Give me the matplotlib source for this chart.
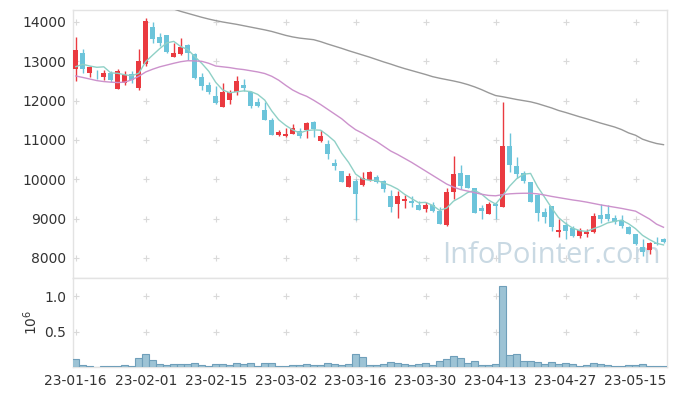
import numpy as np
import pandas as pd
import matplotlib
matplotlib.use('Agg')
import matplotlib.pyplot as plt

# trading days (KRX holidays removed)
holidays = ['2023-01-23', '2023-01-24', '2023-03-01', '2023-05-01', '2023-05-05']
dates = [d for d in pd.bdate_range('2023-01-16', '2023-05-19')
         if d.strftime('%Y-%m-%d') not in holidays]

opens = [12800, 13220, 12700, 12660, 12590, 12710, 12305, 12460, 12670, 12320,
         12925, 13880, 13610, 13670, 13120, 13186, 13420, 13186, 12610, 12400,
         12120, 11850, 12010, 12212, 12400, 12230, 11975, 11763, 11510, 11127,
         11105, 11160, 11230, 11247, 11466, 10975, 10906, 10416, 10212, 9814,
         9958, 9856, 9990, 10060, 9958, 9577, 9381, 9460, 9450, 9348,
         9246, 9348, 9196, 8840, 9686, 10153, 10110, 9773, 9264, 9127,
         9381, 9305, 10848, 10340, 10169, 9925, 9602, 9178, 9322, 8654,
         8840, 8770, 8568, 8602, 8654, 9094, 9127, 9010, 8960, 8797,
         8603, 8280, 8195, 8390, 8492]
highs = [13610, 13306, 12880, 12780, 12780, 12760, 12800, 12760, 12746, 13320,
         14090, 14000, 13713, 13680, 13460, 13590, 13430, 13200, 12696, 12483,
         12373, 12440, 12271, 12630, 12551, 12240, 12060, 11960, 11550, 11255,
         11298, 11415, 11298, 11466, 11480, 11255, 11000, 10517, 10220, 10169,
         10000, 10195, 10200, 10110, 9983, 9729, 9704, 9602, 9568, 9449,
         9432, 9416, 9297, 9773, 10590, 10356, 10120, 9780, 9348, 9432,
         9432, 11960, 11170, 10568, 10212, 9935, 9620, 9280, 9330, 8992,
         8924, 8822, 8771, 8729, 9137, 9365, 9348, 9094, 9094, 8810,
         8620, 8492, 8416, 8542, 8500]
lows = [12510, 12711, 12610, 12550, 12530, 12475, 12290, 12410, 12440, 12270,
        12880, 13460, 13390, 13200, 13100, 13170, 13030, 12550, 12271, 12162,
        11908, 11840, 11908, 12145, 12254, 11822, 11847, 11500, 11120, 11110,
        11085, 11145, 11059, 11043, 11085, 10960, 10517, 10230, 9925, 9800,
        8960, 9840, 9960, 9900, 9670, 9178, 9010, 9264, 9305, 9213,
        9162, 9180, 8860, 8822, 9500, 9755, 9780, 9140, 8992, 9110,
        8992, 9290, 10195, 10027, 9915, 9420, 8941, 8883, 8687, 8542,
        8492, 8542, 8517, 8542, 8640, 8883, 8941, 8873, 8771, 8600,
        8340, 8059, 8093, 8331, 8380]
closes = [13300, 12800, 12850, 12640, 12710, 12530, 12746, 12660, 12520, 13020,
          14025, 13580, 13475, 13237, 13220, 13364, 13200, 12584, 12373, 12220,
          11950, 12230, 12230, 12500, 12330, 11865, 11870, 11510, 11127, 11196,
          11150, 11300, 11110, 11440, 11280, 11110, 10652, 10350, 9940, 10085,
          9635, 10027, 10180, 9940, 9755, 9305, 9577, 9510, 9400, 9230,
          9348, 9196, 8873, 9686, 10127, 9839, 9790, 9153, 9204, 9374,
          9330, 10847, 10365, 10144, 9958, 9432, 9153, 9043, 8781, 8720,
          8687, 8570, 8720, 8670, 9076, 8992, 8992, 8924, 8822, 8620,
          8364, 8146, 8382, 8356, 8407]
# closes of the 4 sessions before the window (for the 5-day average)
pre_closes = [12500, 13065, 12805, 12650]

ma20 = [12627, 12590, 12550, 12510, 12485, 12470, 12460, 12470, 12530, 12620,
        12730, 12800, 12860, 12905, 12950, 12990, 13015, 13010, 13000, 12950,
        12880, 12860, 12840, 12810, 12790, 12760, 12730, 12690, 12620, 12520,
        12390, 12270, 12180, 12110, 12010, 11900, 11780, 11660, 11540, 11390,
        11260, 11170, 11060, 10960, 10840, 10720, 10630, 10530, 10430, 10320,
        10210, 10100, 9990, 9880, 9800, 9740, 9700, 9660, 9620, 9590,
        9580, 9610, 9630, 9640, 9645, 9645, 9630, 9600, 9565, 9535,
        9505, 9475, 9450, 9420, 9385, 9350, 9320, 9290, 9260, 9225,
        9190, 9090, 8990, 8860, 8780]
ma60 = [np.nan] * 14 + [
        14330, 14270, 14220, 14170, 14120, 14075,
        14035, 14000, 13970, 13940, 13905, 13870, 13835, 13800, 13760, 13710,
        13660, 13620, 13590, 13570, 13550, 13500, 13440, 13385, 13330, 13270,
        13215, 13160, 13105, 13045, 12985, 12930, 12870, 12815, 12765, 12715,
        12665, 12610, 12570, 12535, 12500, 12460, 12410, 12350, 12280, 12200,
        12130, 12100, 12065, 12030, 12000, 11970, 11925, 11870, 11815, 11750,
        11700, 11645, 11590, 11540, 11485, 11430, 11380, 11330, 11265, 11180,
        11120, 11020, 10960, 10910, 10880]

volumes = [112000, 28000, 10000, 2000, 14000, 14000, 14000, 28000, 14000, 126000,
           182000, 103000, 42000, 28000, 42000, 42000, 42000, 56000, 33000, 14000,
           42000, 42000, 28000, 56000, 42000, 56000, 14000, 56000, 56000, 14000,
           14000, 28000, 28000, 42000, 28000, 28000, 56000, 40000, 28000, 42000,
           182000, 140000, 28000, 28000, 42000, 70000, 56000, 42000, 28000, 42000,
           56000, 28000, 84000, 112000, 154000, 126000, 56000, 84000, 28000, 28000,
           42000, 1140000, 168000, 182000, 84000, 84000, 70000, 42000, 70000, 42000,
           56000, 42000, 14000, 28000, 56000, 42000, 28000, 14000, 14000, 28000,
           28000, 42000, 14000, 14000, 14000]

UP = '#ea3a40'
DOWN = '#6cc4da'
GRID = '#d9d9d9'
SPINE = '#e3e3e3'

x = np.arange(len(dates))
o = np.array(opens); h = np.array(highs); l = np.array(lows); c = np.array(closes)
ma5 = pd.Series(pre_closes + closes).rolling(5).mean().values[4:]

fig = plt.figure(figsize=(6.77, 3.96), dpi=100)
ax = fig.add_axes([73 / 677, 118 / 396, 594 / 677, 268 / 396])
axv = fig.add_axes([73 / 677, 29 / 396, 594 / 677, 89 / 396], sharex=ax)

up = c >= o
cols = np.where(up, UP, DOWN)
ax.vlines(x, l, h, colors=cols, linewidth=1.0, zorder=3)
ax.bar(x, np.abs(c - o), bottom=np.minimum(o, c), width=0.7, color=cols,
       linewidth=0, zorder=4)

ax.plot(x, ma5, color='#8fd0c6', lw=1.0, zorder=5)
ax.plot(x, ma20, color='#cc92cc', lw=1.0, zorder=5)
ax.plot(x, ma60, color='#999999', lw=1.0, zorder=5)

ax.text(0.99, 0.03, 'InfoPointer.com', transform=ax.transAxes, ha='right', va='bottom',
        fontsize=21, family='Open Sans', color='#c9d9e3', zorder=1)

axv.bar(x, np.array(volumes) / 1e6, width=1.0, color='#9dc3d5', edgecolor='#6f9fba',
        linewidth=0.8, zorder=3)

xt = np.arange(0, len(dates), 10)
yt = np.arange(8000, 14001, 1000)
vt = [0.5, 1.0]

ax.set_xlim(-0.4, 84.5)
ax.set_ylim(7490, 14305)
axv.set_ylim(0, 1.26)

ax.set_yticks(yt)
axv.set_yticks(vt)
axv.set_xticks(xt)
axv.set_xticklabels([dates[i].strftime('%y-%m-%d') for i in xt])
axv.set_ylabel('$10^6$', fontsize=10, color='#333333', labelpad=3)

# small cross marks at grid intersections
gx, gy = np.meshgrid(xt, yt)
ax.plot(gx.ravel(), gy.ravel(), '+', color=GRID, ms=5, mew=0.8, zorder=0)
gx, gy = np.meshgrid(xt, vt)
axv.plot(gx.ravel(), gy.ravel(), '+', color=GRID, ms=5, mew=0.8, zorder=0)

for a in (ax, axv):
    a.tick_params(length=0, labelsize=10, labelcolor='#333333', pad=5)
    for s in a.spines.values():
        s.set_color(SPINE)
        s.set_linewidth(1.0)
ax.tick_params(labelbottom=False)

fig.savefig('out.png', dpi=100)
